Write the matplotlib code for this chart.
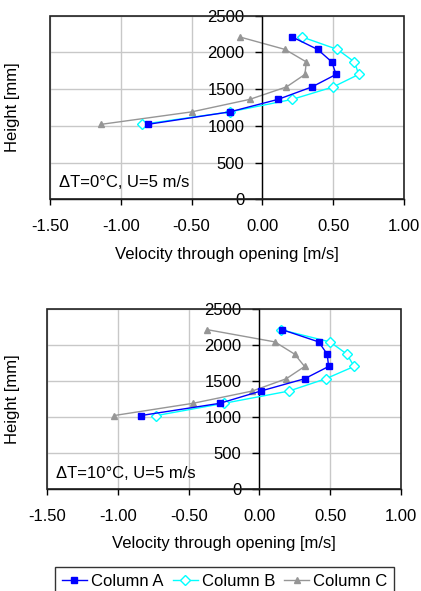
import numpy as np
import matplotlib
matplotlib.use('Agg')
import matplotlib.pyplot as plt
import matplotlib.ticker as ticker
from matplotlib.patches import Rectangle

plt.rcParams['font.family'] = ['Liberation Sans', 'DejaVu Sans']
plt.rcParams['font.size'] = 12

# measurement heights [mm]
height = [2210, 2040, 1870, 1700, 1530, 1360, 1190, 1020]

# dT = 0 C
top_a = [0.21, 0.39, 0.49, 0.52, 0.35, 0.11, -0.23, -0.81]
top_b = [0.28, 0.53, 0.65, 0.68, 0.50, 0.21, -0.23, -0.85]
top_c = [-0.16, 0.16, 0.31, 0.30, 0.17, -0.09, -0.50, -1.14]

# dT = 10 C
bot_a = [0.16, 0.42, 0.48, 0.49, 0.32, 0.01, -0.28, -0.84]
bot_b = [0.15, 0.50, 0.62, 0.67, 0.47, 0.21, -0.25, -0.73]
bot_c = [-0.37, 0.11, 0.25, 0.32, 0.19, -0.05, -0.47, -1.03]

series_names = ['Column A', 'Column B', 'Column C']
x_ticks = [-1.5, -1.0, -0.5, 0.0, 0.5, 1.0]
y_ticks = [0, 500, 1000, 1500, 2000, 2500]


def draw_panel(ax, a, b, c, note, ylab_x):
    ax.plot(a, height, color='#0000ff', lw=1, marker='s', ms=4.5,
            mfc='#0000ff', mec='#0000ff', label=series_names[0], zorder=4)
    ax.plot(b, height, color='#00ffff', lw=1, marker='D', ms=5,
            mfc='white', mec='#00ffff', mew=1, label=series_names[1], zorder=3)
    ax.plot(c, height, color='#969696', lw=1, marker='^', ms=5,
            mfc='#969696', mec='#969696', label=series_names[2], zorder=2)

    ax.set_xlim(-1.5, 1.0)
    ax.set_ylim(0, 2500)
    ax.xaxis.set_major_locator(ticker.FixedLocator(x_ticks))
    ax.yaxis.set_major_locator(ticker.FixedLocator(y_ticks))
    ax.xaxis.set_major_formatter(ticker.FormatStrFormatter('%.2f'))

    ax.grid(True, color='#c8c8c8', lw=1)
    ax.set_axisbelow(True)

    # y axis crosses at x = 0
    ax.spines['left'].set_position(('data', 0))
    ax.spines['right'].set_visible(False)
    ax.spines['top'].set_visible(False)
    for s in ['left', 'bottom']:
        ax.spines[s].set_color('black')
        ax.spines[s].set_linewidth(1)
    ax.add_patch(Rectangle((0, 0), 1, 1, transform=ax.transAxes, fill=False,
                           edgecolor='#222222', lw=1.2, zorder=5, clip_on=False))

    ax.tick_params(axis='x', direction='out', length=4, width=1, pad=10)
    ax.tick_params(axis='y', direction='out', length=5, width=1, pad=8)

    ax.text(0.025, 0.09, note, transform=ax.transAxes, fontsize=12,
            ha='left', va='center')

    ax.set_ylabel('Height [mm]', fontsize=12)
    ax.yaxis.set_label_coords(ylab_x, 0.5)
    ax.set_xlabel('Velocity through opening [m/s]', fontsize=12)
    ax.xaxis.set_label_coords(0.5, -0.26)


fig = plt.figure(figsize=(4.21, 5.91), dpi=100)
ax1 = fig.add_axes([0.1188, 0.6628, 0.8409, 0.3107])
ax2 = fig.add_axes([0.1124, 0.1721, 0.8394, 0.3056])

draw_panel(ax1, top_a, top_b, top_c, '\u0394T=0\u00b0C, U=5 m/s', -0.085)
draw_panel(ax2, bot_a, bot_b, bot_c, '\u0394T=10\u00b0C, U=5 m/s', -0.077)

handles, labels = ax2.get_legend_handles_labels()
leg = fig.legend(handles, labels, loc='upper left', ncol=3,
                 bbox_to_anchor=(55 / 421, 1 - 567 / 591), frameon=True,
                 fancybox=False, edgecolor='black', fontsize=12,
                 handlelength=1.5, handletextpad=0.25, columnspacing=0.55,
                 borderpad=0.4, borderaxespad=0)
leg.get_frame().set_linewidth(1)

fig.savefig('out.png', dpi=100)
